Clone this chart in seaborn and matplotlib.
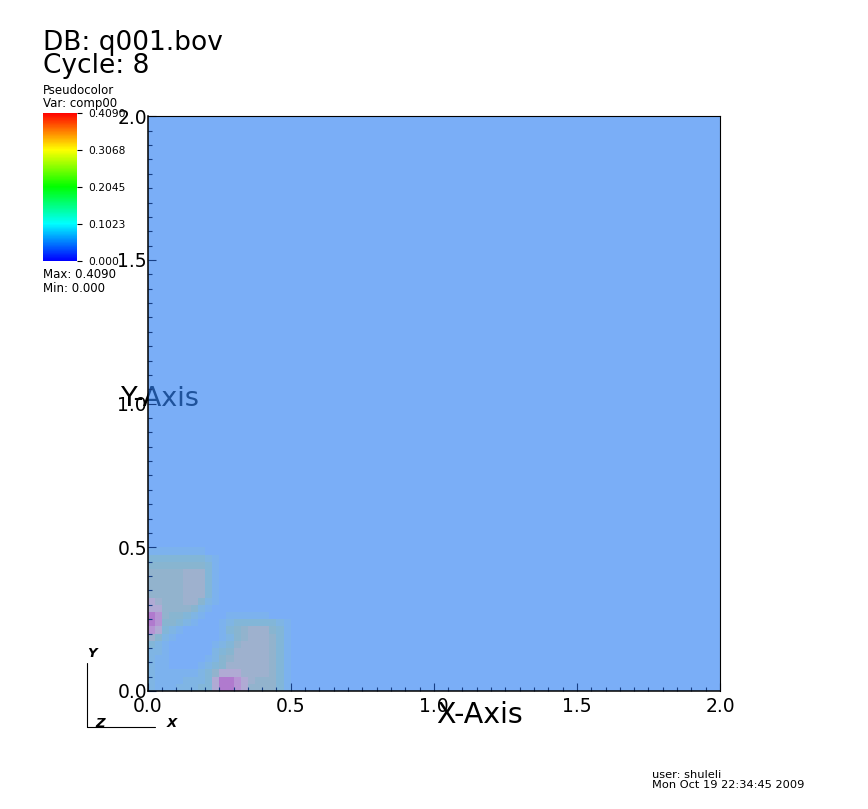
import numpy as np
import matplotlib
matplotlib.use('Agg')
import matplotlib.pyplot as plt
import seaborn as sns
from matplotlib.colors import ListedColormap, LinearSegmentedColormap, Normalize
from matplotlib.cm import ScalarMappable
from matplotlib.lines import Line2D
from matplotlib.ticker import MultipleLocator

# comp00 (0 = flat background, 9 = purple spot).
# one char per 0.025 x 0.025 cell, rows run from y=0.55 (top) down to y=0,
# columns from x=0 to x=0.6. everything outside this corner is level 0.
corner_rows = [
    "000000000000000000000000",
    "000000000000000000000000",
    "111111110000000000000000",
    "333333332100000000000000",
    "444444443100000000000000",
    "555556663100000000000000",
    "555556663100000000000000",
    "555556663100000000000000",
    "555556663100000000000000",
    "765556642100000000000000",
    "775555421000000000000000",
    "985443210001111110000000",
    "984432100012333333210000",
    "873210000013456664310000",
    "642100000012456665310000",
    "321000000123566665310000",
    "221000000234666665310000",
    "211000001245666665310000",
    "211000012346666665310000",
    "211111123577766665310000",
    "211112223799876555310000",
    "211122233799875555310000",
]
cell = 0.025
domain = 2.0

level_colors = ['#7aaef7', '#7cb2ee', '#7fb5e4', '#82b6d8', '#88b5d0',
                '#92b3cd', '#9eb1ce', '#b0aad4', '#b694d4', '#b07ace']

tick_values = [0.0, 0.5, 1.0, 1.5, 2.0]
tick_labels = ['0.0', '0.5', '1.0', '1.5', '2.0']

var_min = 0.0
var_max = 0.4090
cbar_ticks = [0.0, 0.1023, 0.2045, 0.3068, 0.4090]
cbar_labels = ['0.000', '0.1023', '0.2045', '0.3068', '0.4090']
rainbow = ['#0000ff', '#00ffff', '#00ff00', '#ffff00', '#ff0000']

# build the full grid
n = int(round(domain / cell))
patch = np.array([[int(c) for c in r] for r in corner_rows[::-1]])
field = np.zeros((n, n))
field[:patch.shape[0], :patch.shape[1]] = patch

sns.set_style('white')
plt.rcParams['font.family'] = ['DejaVu Sans']
plt.rcParams['text.color'] = 'black'

W, H = 868, 809
fig = plt.figure(figsize=(W / 100, H / 100), dpi=100)


def fx(px):
    return px / W


def fy(py):
    return 1 - py / H


ax = fig.add_axes([fx(147.7), fy(691), 572.3 / W, 574.7 / H])
sns.heatmap(field, ax=ax, cmap=ListedColormap(level_colors),
            vmin=-0.5, vmax=len(level_colors) - 0.5, cbar=False,
            xticklabels=False, yticklabels=False)
ax.collections[0].set_zorder(1)
ax.set_xlim(0, n)
ax.set_ylim(0, n)
# ticks sit on top of the field (seaborn's white style puts them below)
ax.xaxis.set_zorder(2.5)
ax.yaxis.set_zorder(2.5)

per_unit = 1 / cell
ax.set_xticks([v * per_unit for v in tick_values])
ax.set_xticklabels(tick_labels)
ax.set_yticks([v * per_unit for v in tick_values])
ax.set_yticklabels(tick_labels, rotation=0)
ax.xaxis.set_minor_locator(MultipleLocator(0.05 * per_unit))
ax.yaxis.set_minor_locator(MultipleLocator(0.05 * per_unit))
ax.tick_params(which='both', direction='in', color='#173f85', width=0.8,
               bottom=True, left=True, top=False, right=False,
               labelcolor='black', labelsize=13.5)
ax.tick_params(which='major', length=6)
ax.tick_params(which='minor', length=3)
ax.tick_params(axis='x', which='major', pad=4.5)
ax.tick_params(axis='y', which='major', pad=0.5)

for side, s in ax.spines.items():
    s.set_visible(True)
    s.set_color('black')
    s.set_linewidth(1.1 if side in ('left', 'bottom') else 0.8)
    s.set_zorder(3)

# axis titles, the part of "Y-Axis" that lies over the field shows through in blue
ax.text(fx(121), fy(406.5), 'Y-Axis', transform=fig.transFigure,
        fontsize=19.5, color='black', zorder=0.5)
t = ax.text(fx(121), fy(406.5), 'Y-Axis', transform=fig.transFigure,
            fontsize=19.5, color='#1e529b', zorder=1.5, clip_on=True)
t.set_clip_box(ax.bbox)
fig.text(fx(436), fy(723), 'X-Axis', fontsize=20.5)

# legend / colour bar
cax = fig.add_axes([fx(42.7), fy(260.7), 34 / W, 148 / H])
cax.set_zorder(-1)
cb = fig.colorbar(ScalarMappable(norm=Normalize(var_min, var_max),
                                 cmap=LinearSegmentedColormap.from_list('visit', rainbow)),
                  cax=cax, ticks=cbar_ticks)
cb.ax.set_yticklabels(cbar_labels)
cb.outline.set_visible(False)
cax.tick_params(right=True, length=3.6, width=0.8, color='black',
                labelsize=7.7, labelcolor='black', pad=5)

fig.text(fx(43), fy(50), 'DB: q001.bov', fontsize=19)
fig.text(fx(43), fy(73.3), 'Cycle: 8', fontsize=19)
fig.text(fx(43), fy(94), 'Pseudocolor', fontsize=8.5)
fig.text(fx(43), fy(106.7), 'Var: comp00', fontsize=8.5)
fig.text(fx(43), fy(278), 'Max: 0.4090', fontsize=8.5)
fig.text(fx(43), fy(292), 'Min: 0.000', fontsize=8.5)

# axis triad
fig.add_artist(Line2D([fx(87), fx(87)], [fy(663), fy(727)], color='black', lw=0.8))
fig.add_artist(Line2D([fx(87), fx(155)], [fy(727), fy(727)], color='black', lw=0.8))
fig.text(fx(87), fy(657), 'Y', fontsize=9.5, style='italic', weight='bold')
fig.text(fx(95), fy(727), 'Z', fontsize=9.5, style='italic', weight='bold')
fig.text(fx(167), fy(727), 'X', fontsize=9.5, style='italic', weight='bold')

fig.text(fx(652), fy(778), 'user: shuleli', fontsize=8.2)
fig.text(fx(652), fy(787.5), 'Mon Oct 19 22:34:45 2009', fontsize=8.2)

fig.savefig('out.png', dpi=100)
